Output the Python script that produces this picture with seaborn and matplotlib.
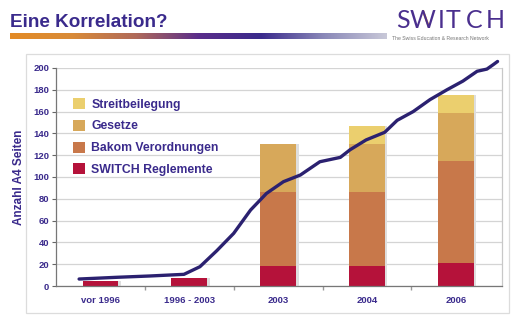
import numpy as np
import pandas as pd
import matplotlib
matplotlib.use("Agg")
import matplotlib.pyplot as plt
from matplotlib.patches import Rectangle, Patch
from matplotlib.lines import Line2D
from matplotlib.colors import LinearSegmentedColormap
import seaborn as sns

# ---- data ----
categories = ["vor 1996", "1996 - 2003", "2003", "2004", "2006"]
switch_regl = [5, 7, 18, 18, 21]
bakom = [0, 0, 68, 68, 94]
gesetze = [0, 0, 44, 44.5, 44]
streit = [0, 0, 0, 16.5, 16.5]
series_names = ["SWITCH Reglemente", "Bakom Verordnungen", "Gesetze", "Streitbeilegung"]

line_x = [-0.24, 0.19, 0.56, 0.94, 1.12, 1.31, 1.50, 1.69, 1.87, 2.06, 2.25,
          2.47, 2.70, 2.81, 2.99, 3.20, 3.34, 3.52, 3.71, 3.90, 4.08, 4.24,
          4.35, 4.42, 4.47]
line_y = [6.4, 8, 9.2, 10.7, 17.7, 32.4, 48.3, 69.7, 85, 95.7, 101.8,
          114, 118, 125, 134, 141, 152, 160, 171, 180, 188, 197,
          199, 203, 206]
yticks = list(range(0, 201, 20))

# ---- styling ----
sns.set_theme(style="white")
plt.rcParams["font.family"] = ["Liberation Sans", "DejaVu Sans"]
purple = "#3a2a8c"
line_col = "#2b2170"
colors = ["#b5123a", "#c8784a", "#d7a85a", "#ebcf6e"]

W, H = 520, 323
fig = plt.figure(figsize=(W / 100, H / 100), dpi=100)
fig.patch.set_facecolor("white")

# outer box
fig.patches.append(Rectangle((26 / W, 1 - 313 / H), (509 - 26) / W, (313 - 54) / H,
                             transform=fig.transFigure, fill=False,
                             edgecolor="#dcdcdc", linewidth=0.9))

# title
fig.text(10 / W, 1 - 27 / H, "Eine Korrelation?", fontsize=13.6, fontweight="bold",
         color=purple, ha="left", va="baseline")

# gradient bar
gax = fig.add_axes([10 / W, 1 - 39 / H, (387 - 10) / W, 6 / H])
cmap = LinearSegmentedColormap.from_list(
    "g", ["#e38b26", "#d88a38", "#b06a5a", "#5a2d8a", "#3a2a8c", "#8a88b8", "#c8c8d8"])
gax.imshow(np.linspace(0, 1, 256)[None, :], aspect="auto", cmap=cmap)
gax.axis("off")

# logo
logo_letters = ["S", "W", "I", "T", "C", "H"]
logo_xc = [403, 423, 441, 453.5, 474, 495.5]
for ch, xc in zip(logo_letters, logo_xc):
    fig.text(xc / W, 1 - 28 / H, ch, fontsize=18, fontfamily="Lato",
             fontweight="normal", color="#4a2f8e", ha="center", va="baseline")
fig.lines.append(Line2D([423 / W, 429 / W], [1 - 11 / H, 1 - 27 / H],
                        transform=fig.transFigure, color="#e38b26", linewidth=1.6))
fig.text(392 / W, 1 - 40 / H, "The Swiss Education & Research Network",
         fontsize=3.7, color="#777777", ha="left", va="baseline")

# main axes
ax = fig.add_axes([56 / W, 1 - 286 / H, (502 - 56) / W, (286 - 68) / H])
cum = np.cumsum(np.array([switch_regl, bakom, gesetze, streit]), axis=0)

# light shadow behind bars
sh = pd.DataFrame({"cat": categories, "v": cum[3]})
sns.barplot(data=sh, x="cat", y="v", color="#dedede", saturation=1, width=0.4,
            ax=ax, edgecolor="none", linewidth=0, zorder=1.5)
for p in ax.patches:
    p.set_x(p.get_x() + 0.03)

for i in range(3, -1, -1):
    d = pd.DataFrame({"cat": categories, "v": cum[i]})
    sns.barplot(data=d, x="cat", y="v", color=colors[i], saturation=1,
                width=0.4, ax=ax, edgecolor="none", linewidth=0, zorder=2)

sns.lineplot(x=line_x, y=line_y, sort=False, color=line_col, linewidth=2.4,
             ax=ax, zorder=5, clip_on=False)

ax.set_xlim(-0.5, 4.52)
ax.set_ylim(0, 200)
ax.set_yticks(yticks)
ax.set_yticklabels([str(t) for t in yticks])
ax.yaxis.grid(True, color="#d4d4d4", linewidth=0.9, zorder=0)
ax.set_axisbelow(True)
ax.set_xlabel("")
ax.set_ylabel("Anzahl A4 Seiten", fontsize=8.5, fontweight="bold", color=purple,
              labelpad=6)
for lab in ax.get_xticklabels() + ax.get_yticklabels():
    lab.set_fontweight("bold")
    lab.set_color(purple)
    lab.set_fontsize(6.8)
ax.tick_params(axis="x", length=0, pad=7)
ax.tick_params(axis="y", length=3, width=0.8, color="#666666", pad=2, left=True)
ax.set_xticks([0.5, 1.5, 2.5, 3.5], minor=True)
ax.tick_params(axis="x", which="minor", length=3, color="#999999", bottom=True)
for s in ["left", "bottom"]:
    ax.spines[s].set_color("#777777")
    ax.spines[s].set_linewidth(0.9)
ax.spines["right"].set_color("#c8c8c8")
ax.spines["right"].set_linewidth(0.9)
ax.spines["top"].set_visible(False)

handles = [Patch(facecolor=colors[i], edgecolor="none") for i in range(3, -1, -1)]
labels = [series_names[i] for i in range(3, -1, -1)]
leg = ax.legend(handles, labels, loc="upper left", bbox_to_anchor=(0.027, 0.885),
                frameon=False, handlelength=1.0, handleheight=1.0,
                handletextpad=0.5, labelspacing=0.75, fontsize=8.8,
                borderaxespad=0)
for t in leg.get_texts():
    t.set_color(purple)
    t.set_fontweight("bold")

fig.savefig("out.png", dpi=100, facecolor="white")
